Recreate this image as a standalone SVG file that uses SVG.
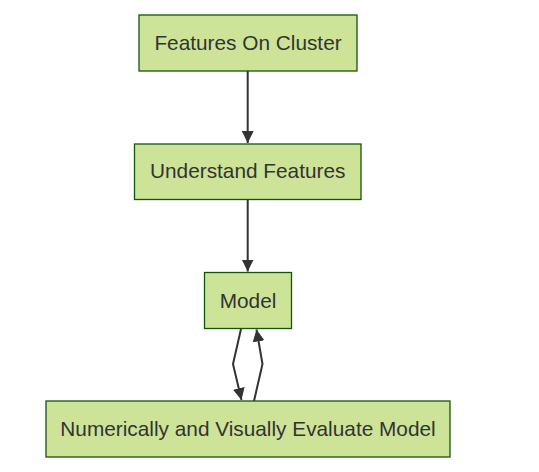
<svg xmlns="http://www.w3.org/2000/svg" width="539" height="472" viewBox="0 0 539 472">
<style>
.node rect{fill:#cde498;stroke:#13540c;stroke-width:1.3}
.node text{font-family:"Liberation Sans",Arial,sans-serif;font-size:20.8px;fill:#333;text-anchor:middle}
.edge{fill:none;stroke:#333;stroke-width:2}
</style>
<defs>
<marker id="arrh" viewBox="0 0 10 10" refX="10" refY="5" markerWidth="12" markerHeight="12" markerUnits="userSpaceOnUse" orient="auto">
<path d="M0,0 L10,5 L0,10 z" fill="#333"/>
</marker>
</defs>
<rect width="539" height="472" fill="#fff"/>
<g id="connectors">
<path class="edge" d="M247.7,71 L247.7,143" marker-end="url(#arrh)"/>
<path class="edge" d="M247.7,199.5 L247.7,271.5" marker-end="url(#arrh)"/>
<path class="edge" d="M241,329 L233,364 L241.5,400" marker-end="url(#arrh)"/>
<path class="edge" d="M254,401 L262.5,364 L256.5,329.5" marker-end="url(#arrh)"/>
</g>
<g id="n1" class="node"><rect x="139" y="15" width="218" height="56"/><text x="248" y="50">Features On Cluster</text></g>
<g id="n2" class="node"><rect x="134.5" y="144" width="226.5" height="55.5"/><text x="247.7" y="178.3">Understand Features</text></g>
<g id="n3" class="node"><rect x="204.5" y="272.5" width="87" height="56"/><text x="248" y="307.7">Model</text></g>
<g id="n4" class="node"><rect x="46" y="401" width="404" height="56"/><text x="248" y="435.7">Numerically and Visually Evaluate Model</text></g>
</svg>
